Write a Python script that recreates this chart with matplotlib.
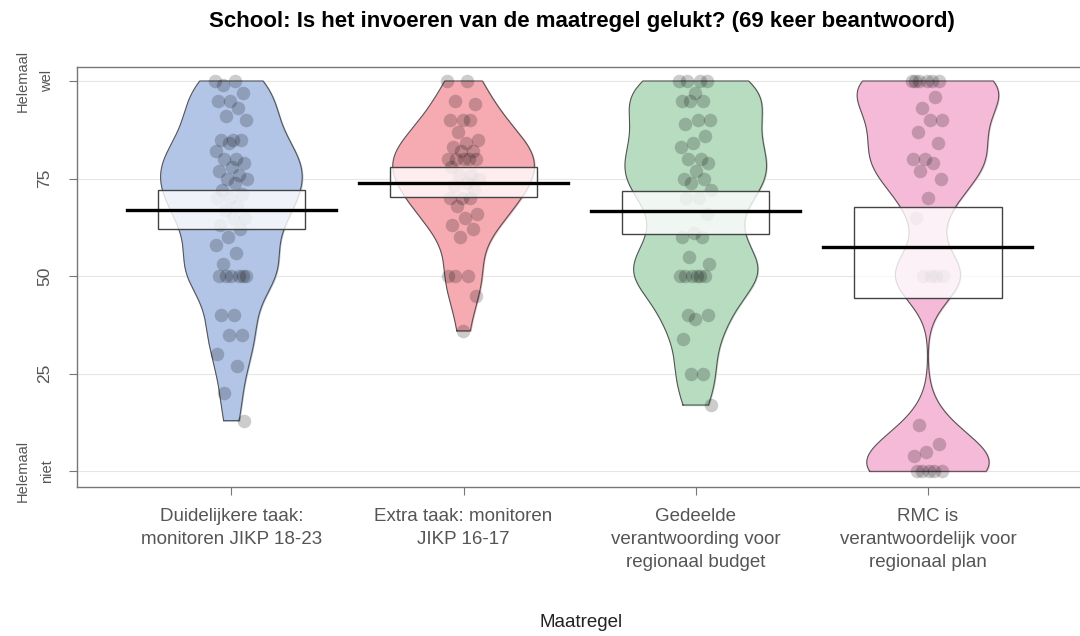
import numpy as np
import matplotlib
matplotlib.use("Agg")
import matplotlib.pyplot as plt
from matplotlib.patches import Rectangle

plt.rcParams['font.family'] = ['Liberation Sans', 'DejaVu Sans']

# answers per maatregel (0 = helemaal niet, 100 = helemaal wel)
categories = ["Duidelijkere taak:\nmonitoren JIKP 18-23",
              "Extra taak: monitoren\nJIKP 16-17",
              "Gedeelde\nverantwoording voor\nregionaal budget",
              "RMC is\nverantwoordelijk voor\nregionaal plan"]

scores_1 = [100, 100, 99, 97, 95, 95, 93, 91, 90, 85, 85, 85, 84, 82, 80, 80, 79, 78,
            77, 76, 75, 75, 74, 72, 71, 70, 70, 68, 67, 65, 65, 63, 62, 60, 58, 56, 53,
            50, 50, 50, 50, 50, 50, 40, 40, 35, 35, 30, 27, 20, 13]
scores_2 = [100, 100, 95, 94, 90, 90, 90, 87, 85, 84, 83, 82, 82, 80, 80, 80, 80, 80,
            78, 76, 76, 75, 74, 73, 72, 70, 70, 70, 68, 66, 65, 63, 62, 60, 50, 50, 50,
            45, 36]
scores_3 = [100, 100, 100, 100, 97, 95, 95, 95, 90, 90, 89, 86, 84, 83, 80, 80, 79,
            77, 75, 75, 74, 72, 70, 70, 66, 61, 60, 60, 55, 53, 50, 50, 50, 50, 50,
            50, 40, 40, 39, 34, 25, 25, 17]
scores_4 = [100, 100, 100, 100, 100, 100, 96, 93, 90, 90, 87, 84, 80, 80, 79, 77, 75,
            70, 65, 50, 50, 50, 50, 12, 7, 5, 4, 0, 0, 0, 0, 0]
all_scores = [scores_1, scores_2, scores_3, scores_4]

means = [67.0, 73.9, 66.7, 57.5]
inf_low = [62.0, 70.3, 60.7, 44.3]
inf_high = [72.0, 78.0, 71.8, 67.8]

colors = ["#b2c5e6", "#f6aab2", "#b7dcc0", "#f5bad7"]
ytick_vals = [0, 25, 50, 75, 100]
ytick_labels = ["", "25", "50", "75", ""]
end_labels = {0: "Helemaal\nniet", 100: "Helemaal\nwel"}

bandwidth = 6.5


def kde(x, grid, bw):
    x = np.asarray(x, float)
    d = (grid[:, None] - x[None, :]) / bw
    return np.exp(-0.5 * d ** 2).sum(axis=1) / (len(x) * bw * np.sqrt(2 * np.pi))


fig = plt.figure(figsize=(10.8, 6.36), dpi=100)
ax = fig.add_axes([0.0713, 0.2343, 0.9287, 0.6604])

for v in ytick_vals:
    ax.axhline(v, color="#e6e6e6", lw=0.8, zorder=0)

half_w = 0.305
for i, data in enumerate(all_scores):
    pos = i + 1
    grid = np.linspace(min(data), max(data), 300)
    dens = kde(data, grid, bandwidth)
    w = dens / dens.max() * half_w
    ax.fill_betweenx(grid, pos - w, pos + w, color=colors[i], zorder=1)
    ax.plot(np.r_[pos - w, (pos + w)[::-1], pos - w[0]],
            np.r_[grid, grid[::-1], grid[0]], color="#555555", lw=0.8, zorder=2)

    # spread the points a bit sideways (deterministic jitter)
    k = np.arange(len(data))
    jit = ((k * 0.618034) % 1 - 0.5) * 0.14
    ax.scatter(pos + jit, data, s=95, color="black", alpha=0.2, lw=0, zorder=3)

    ax.add_patch(Rectangle((pos - 0.317, inf_low[i]), 0.634, inf_high[i] - inf_low[i],
                           facecolor=(1, 1, 1, 0.8), edgecolor="#444444", lw=1, zorder=4))
    ax.plot([pos - 0.45, pos + 0.45], [means[i], means[i]], color="black", lw=2.4, zorder=5)

ax.set_xlim(0.335, 4.655)
ax.set_ylim(-4, 103.6)
ax.set_xticks(range(1, 5))
ax.set_xticklabels(categories, fontsize=13.5, color="#555555", linespacing=1.45)
ax.set_yticks(ytick_vals)
ax.set_yticklabels(ytick_labels, fontsize=12.5, color="#555555", rotation=90, va="center",
                   ha="center")
for v, lab in end_labels.items():
    ax.text(-0.042, v, lab, transform=ax.get_yaxis_transform(), rotation=90,
            fontsize=10.5, color="#555555", ha="center", va="center",
            multialignment="center", linespacing=2.0)
ax.tick_params(axis="y", pad=17, length=6, color="#777777")
ax.tick_params(axis="x", length=6, color="#777777", pad=9)
for s in ["top", "bottom", "left"]:
    ax.spines[s].set_color("#777777")
    ax.spines[s].set_linewidth(1)
ax.spines["right"].set_visible(False)

fig.text(0.538, 0.022, "Maatregel", fontsize=13.5, color="#222222", ha="center", va="center")
fig.suptitle("School: Is het invoeren van de maatregel gelukt? (69 keer beantwoord)",
             x=0.539, y=0.983, fontsize=16, fontweight="bold")

fig.savefig("out.png", dpi=100)
